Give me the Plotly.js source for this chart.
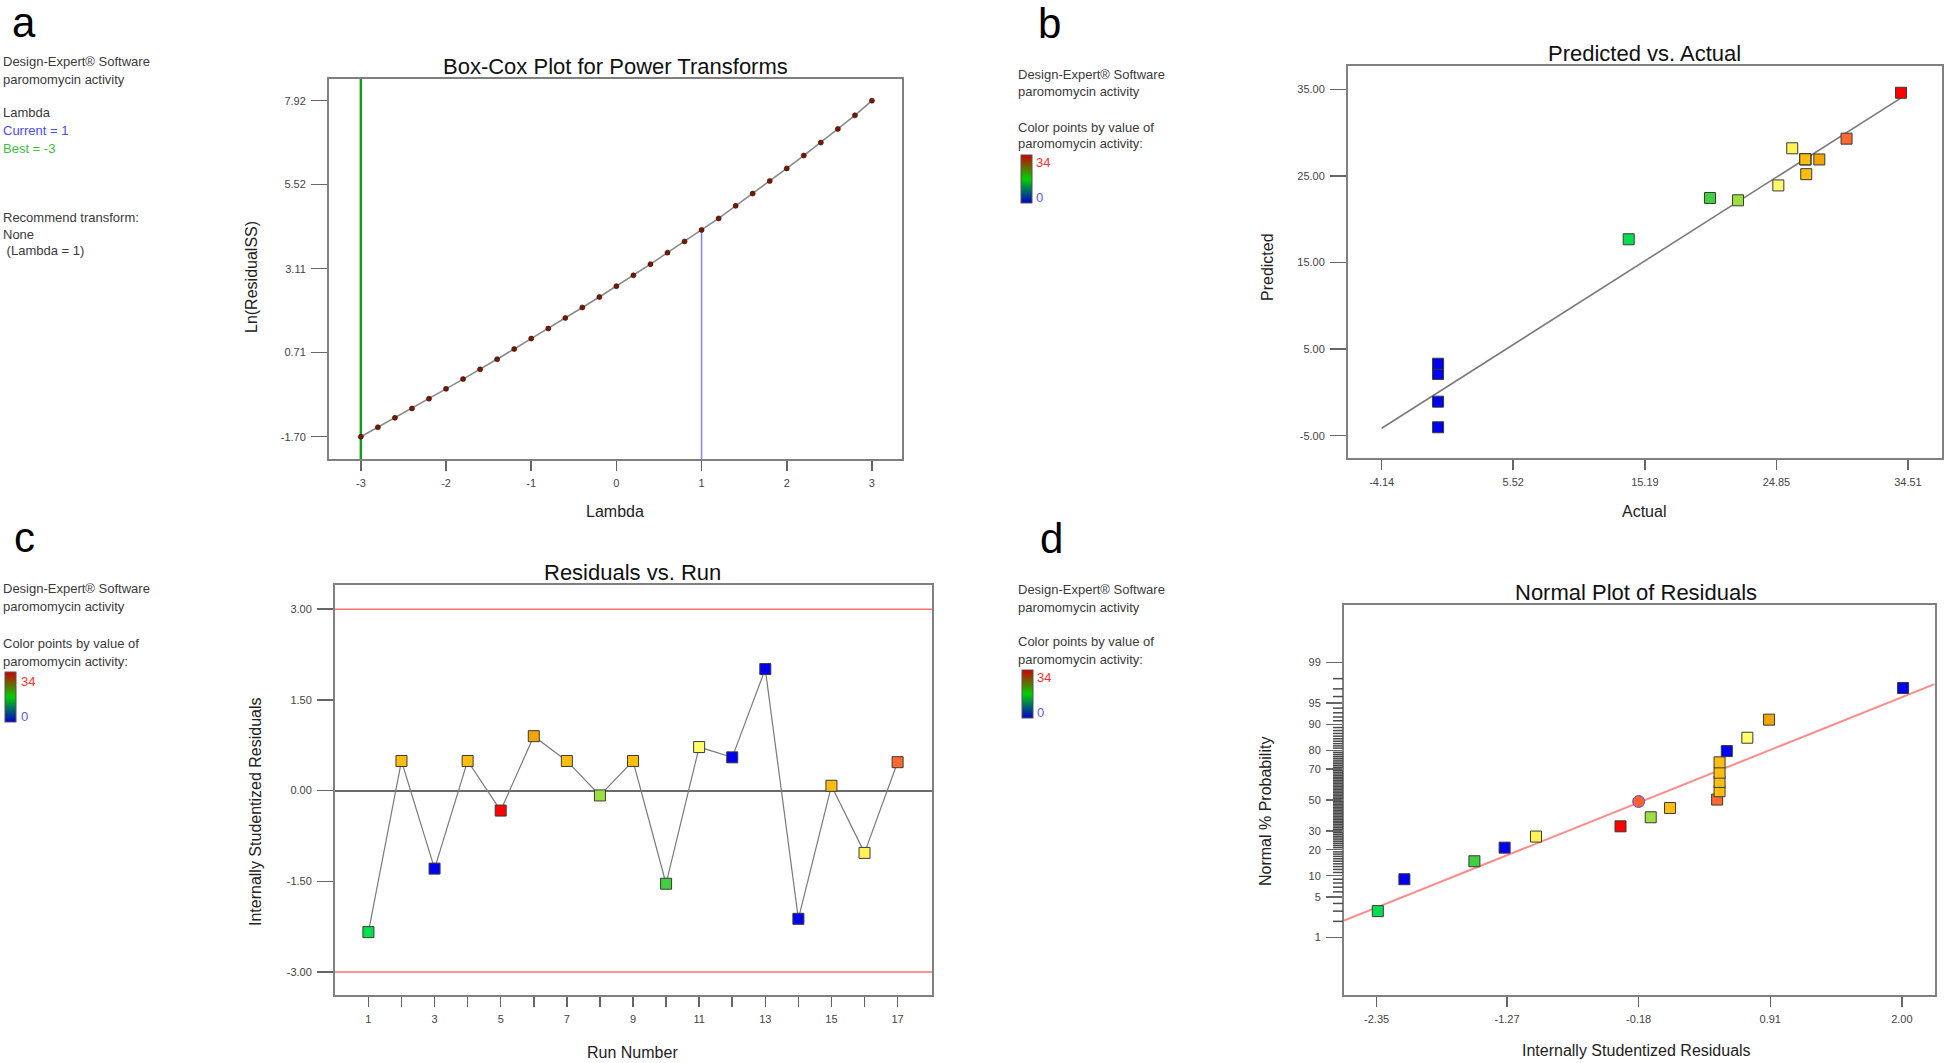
<!DOCTYPE html>
<html>
<head>
<meta charset="utf-8">
<script src="https://cdn.plot.ly/plotly-3.0.1.min.js"></script>
<style>
  html, body { margin: 0; padding: 0; background: #fff; }
  #plot { width: 1946px; height: 1063px; }
</style>
</head>
<body>
<div id="plot"></div>
<script>
// ---- (a) Box-Cox plot ----
const lambdaVals = [-3, -2.8, -2.6, -2.4, -2.2, -2, -1.8, -1.6, -1.4, -1.2, -1, -0.8, -0.6, -0.4, -0.2,
  0, 0.2, 0.4, 0.6, 0.8, 1, 1.2, 1.4, 1.6, 1.8, 2, 2.2, 2.4, 2.6, 2.8, 3];
const lnResidualSS = [-1.70, -1.43, -1.16, -0.89, -0.61, -0.33, -0.05, 0.23, 0.52, 0.81, 1.11, 1.40, 1.70,
  2.00, 2.30, 2.61, 2.92, 3.24, 3.57, 3.89, 4.22, 4.55, 4.91, 5.26, 5.62, 5.98, 6.35, 6.72, 7.11, 7.50, 7.92];
const lambdaBest = -3;
const lambdaCurrent = 1;
const lnAtCurrent = 4.22;

// ---- runs (b, c) ----
const runNumber = [1, 2, 3, 4, 5, 6, 7, 8, 9, 10, 11, 12, 13, 14, 15, 16, 17];
const actual = [14.0, 26.97, 0, 26.97, 34.0, 28.0, 26.97, 22.03, 26.97, 19.97, 24.99, 0, 0, 0, 27.04, 26.01, 30.0];
const predicted = [17.68, 26.92, 2.12, 26.92, 34.6, 26.9, 26.92, 22.18, 26.92, 22.45, 23.9, -1.07, -4.03, 3.31, 25.2, 28.19, 29.3];
const residual = [-2.34, 0.49, -1.29, 0.49, -0.33, 0.90, 0.49, -0.08, 0.49, -1.54, 0.72, 0.55, 2.01, -2.12, 0.08, -1.03, 0.47];
const fitLineB = [-4.14, 34.3];
const residLimit = 3;

// ---- (d) normal plot ----
const normOrder = [1, 14, 10, 3, 16, 5, 8, 15, 17, 2, 4, 7, 9, 12, 11, 6, 13];
const normProb = [3.0, 9.0, 15.0, 21.0, 26.8, 32.8, 38.5, 44.6, 50.3, 55.9, 62.0, 67.8, 73.8, 79.6, 85.4, 91.3, 97.1];
const markX = [-0.18];
const markProb = [49];
const fitX = [-2.62, 2.27];
const fitProb = [2.07, 97.5];

// ---- tick labels ----
const ticksAx = [-3, -2, -1, 0, 1, 2, 3];
const ticksAy = [-1.70, 0.71, 3.11, 5.52, 7.92];
const ticksBx = [-4.14, 5.52, 15.19, 24.85, 34.51];
const ticksBy = [-5, 5, 15, 25, 35];
const ticksCy = [-3, -1.5, 0, 1.5, 3];
const ticksDx = [-2.35, -1.27, -0.18, 0.91, 2.00];
const ticksDy = [1, 5, 10, 20, 30, 50, 70, 80, 90, 95, 99];

const W = 1946, H = 1063;
const FONT = 'Liberation Sans, Arial, sans-serif';

// inverse normal CDF (probability axis)
function probit(pct) {
  const p = pct / 100;
  const a = [-3.969683028665376e+01, 2.209460984245205e+02, -2.759285104469687e+02, 1.383577518672690e+02, -3.066479806614716e+01, 2.506628277459239e+00];
  const b = [-5.447609879822406e+01, 1.615858368580409e+02, -1.556989798598866e+02, 6.680131188771972e+01, -1.328068155288572e+01];
  const c = [-7.784894002430293e-03, -3.223964580411365e-01, -2.400758277161838e+00, -2.549732539343734e+00, 4.374664141464968e+00, 2.938163982698783e+00];
  const d = [7.784695709041462e-03, 3.224671290700398e-01, 2.445134137142996e+00, 3.754408661907416e+00];
  const pl = 0.02425;
  let q, r;
  if (p < pl) {
    q = Math.sqrt(-2 * Math.log(p));
    return (((((c[0]*q+c[1])*q+c[2])*q+c[3])*q+c[4])*q+c[5]) / ((((d[0]*q+d[1])*q+d[2])*q+d[3])*q+1);
  }
  if (p > 1 - pl) {
    q = Math.sqrt(-2 * Math.log(1 - p));
    return -(((((c[0]*q+c[1])*q+c[2])*q+c[3])*q+c[4])*q+c[5]) / ((((d[0]*q+d[1])*q+d[2])*q+d[3])*q+1);
  }
  q = p - 0.5; r = q * q;
  return (((((a[0]*r+a[1])*r+a[2])*r+a[3])*r+a[4])*r+a[5])*q / (((((b[0]*r+b[1])*r+b[2])*r+b[3])*r+b[4])*r+1);
}

const dx = (l, r) => [l / W, r / W];
const dy = (t, b) => [1 - b / H, 1 - t / H];

// point colours by activity value
const actScale = [[0, '#0000ee'], [0.40, '#00e050'], [0.59, '#40d040'], [0.65, '#a0e040'], [0.73, '#ffff70'],
  [0.77, '#fff050'], [0.79, '#ffc010'], [0.83, '#f0a000'], [0.88, '#ff6a30'], [1, '#ff0000']];
const barScale = [[0, '#0000d0'], [0.5, '#00d000'], [1, '#d00000']];

const markerStyle = colors => ({
  symbol: 'square', size: 11, color: colors, cmin: 0, cmax: 34, colorscale: actScale,
  line: { color: '#3a3a3a', width: 1 }
});

const normRes = normOrder.map(r => residual[r - 1]);
const normAct = normOrder.map(r => actual[r - 1]);

function legendBar(xa, ya, left, top, len) {
  return {
    type: 'scatter', x: [null], y: [null], xaxis: xa, yaxis: ya, mode: 'markers', showlegend: false, hoverinfo: 'skip',
    marker: {
      color: [0], cmin: 0, cmax: 34, colorscale: barScale, showscale: true,
      colorbar: {
        x: left / W, xanchor: 'left', y: 1 - top / H, yanchor: 'top', len: len, lenmode: 'pixels',
        thickness: 11, thicknessmode: 'pixels', outlinewidth: 1, outlinecolor: '#555',
        showticklabels: false, ticks: '', xpad: 0, ypad: 0, borderwidth: 0
      }
    }
  };
}

const traces = [
  // (a)
  { x: [lambdaCurrent, lambdaCurrent], y: [-2.338, lnAtCurrent], xaxis: 'x', yaxis: 'y', mode: 'lines',
    line: { color: '#8080ff', width: 1.5 }, hoverinfo: 'skip' },
  { x: lambdaVals, y: lnResidualSS, xaxis: 'x', yaxis: 'y', mode: 'lines+markers',
    line: { color: '#8a8a8a', width: 1.6 },
    marker: { size: 5, color: '#7a1800', line: { color: '#2a0a00', width: 0.6 } } },
  // (b)
  { x: fitLineB, y: fitLineB, xaxis: 'x2', yaxis: 'y2', mode: 'lines', line: { color: '#7a7a7a', width: 1.6 } },
  { x: actual, y: predicted, xaxis: 'x2', yaxis: 'y2', mode: 'markers', marker: markerStyle(actual) },
  // (c)
  { x: runNumber, y: residual, xaxis: 'x3', yaxis: 'y3', mode: 'lines+markers',
    line: { color: '#7a7a7a', width: 1.2 }, marker: markerStyle(actual) },
  // (d)
  { x: fitX, y: fitProb.map(probit), xaxis: 'x4', yaxis: 'y4', mode: 'lines', line: { color: '#ff8a8a', width: 2 } },
  { x: normRes, y: normProb.map(probit), xaxis: 'x4', yaxis: 'y4', mode: 'markers', marker: markerStyle(normAct) },
  { x: markX, y: markProb.map(probit), xaxis: 'x4', yaxis: 'y4', mode: 'markers',
    marker: { symbol: 'circle', size: 12, color: '#ff6030', line: { color: '#5050ff', width: 1 } } },
  legendBar('x2', 'y2', 1021, 155, 48),
  legendBar('x3', 'y3', 5, 672, 50),
  legendBar('x4', 'y4', 1022, 670, 48)
];
traces.forEach(t => { if (t.showlegend === undefined) t.showlegend = false; });

const axisBase = {
  showline: true, mirror: true, linecolor: '#808080', linewidth: 2, ticks: 'outside', tickcolor: '#666',
  tickwidth: 1.5, showgrid: false, zeroline: false, tickmode: 'array', ticklabelstandoff: 3,
  tickfont: { size: 11, color: '#444', family: FONT }, fixedrange: true
};
const xAxis = o => Object.assign({}, axisBase, { ticklen: 10 }, o);
const yAxis = o => Object.assign({}, axisBase, { ticklen: 16 }, o);

function note(text, x, y, o) {
  const a = {
    text: text, x: x / W, y: 1 - y / H, xref: 'paper', yref: 'paper', showarrow: false,
    xanchor: 'left', yanchor: 'middle', font: { size: 13, color: '#3a3a3a', family: FONT }
  };
  return Object.assign(a, o || {});
}
const title = (t, x, y) => note(t, x, y, { xanchor: 'center', font: { size: 22, color: '#111', family: FONT } });
const axTitle = (t, x, y, rot) => note(t, x, y, { xanchor: 'center', textangle: rot || 0, font: { size: 16, color: '#222', family: FONT } });
const panel = (t, x, y) => note(t, x, y, { font: { size: 42, color: '#000', family: FONT } });
const colored = (t, x, y, c) => note(t, x, y, { font: { size: 13, color: c, family: FONT } });

const annotations = [
  panel('a', 10, 22), panel('b', 1036, 23), panel('c', 12, 537), panel('d', 1038, 538),
  title('Box-Cox Plot for Power Transforms', 615, 67),
  title('Predicted vs. Actual', 1644, 53),
  title('Residuals vs. Run', 632, 572),
  title('Normal Plot of Residuals', 1636, 592),
  axTitle('Lambda', 615, 512), axTitle('Ln(ResidualSS)', 252, 277, -90),
  axTitle('Actual', 1644, 512), axTitle('Predicted', 1268, 267, -90),
  axTitle('Run Number', 632, 1052), axTitle('Internally Studentized Residuals', 255, 812, -90),
  axTitle('Internally Studentized Residuals', 1636, 1050), axTitle('Normal % Probability', 1265, 812, -90),
  // side notes (a)
  note('Design-Expert® Software', 1, 62), note('paromomycin activity', 1, 80),
  note('Lambda', 1, 113), colored('Current = 1', 1, 131, '#4a4aff'), colored('Best = -3', 1, 148, '#3cc03c'),
  note('Recommend transform:', 1, 218), note('None', 1, 234), note('\u00a0(Lambda = 1)', 1, 251),
  // side notes (b)
  note('Design-Expert® Software', 1016, 74), note('paromomycin activity', 1016, 91),
  note('Color points by value of', 1016, 127), note('paromomycin activity:', 1016, 144),
  colored('34', 1034, 162, '#ff3030'), colored('0', 1034, 197, '#5a5aff'),
  // side notes (c)
  note('Design-Expert® Software', 1, 588), note('paromomycin activity', 1, 606),
  note('Color points by value of', 1, 643), note('paromomycin activity:', 1, 661),
  colored('34', 19, 681, '#ff3030'), colored('0', 19, 716, '#5a5aff'),
  // side notes (d)
  note('Design-Expert® Software', 1016, 589), note('paromomycin activity', 1016, 607),
  note('Color points by value of', 1016, 641), note('paromomycin activity:', 1016, 659),
  colored('34', 1035, 677, '#ff3030'), colored('0', 1035, 712, '#5a5aff')
];

const rangeD = [-3.30, 3.30];
const domXD = dx(1344, 1934.5);
const domYD = dy(605, 995);

const shapes = [
  { type: 'line', layer: 'below', xref: 'x', yref: 'y domain', x0: lambdaBest, x1: lambdaBest, y0: 0, y1: 1,
    line: { color: '#1a9a1a', width: 2.5 } },
  { type: 'line', layer: 'below', xref: 'x3 domain', yref: 'y3', x0: 0, x1: 1, y0: residLimit, y1: residLimit,
    line: { color: '#ff7070', width: 1.6 } },
  { type: 'line', layer: 'below', xref: 'x3 domain', yref: 'y3', x0: 0, x1: 1, y0: -residLimit, y1: -residLimit,
    line: { color: '#ff7070', width: 1.6 } }
];

// short ticks at every whole percent on the probability axis (left of the axis line)
for (let p = 2; p <= 98; p++) {
  if (ticksDy.includes(p)) continue;
  const f = (probit(p) - rangeD[0]) / (rangeD[1] - rangeD[0]);
  const yp = domYD[0] + f * (domYD[1] - domYD[0]);
  shapes.push({ type: 'line', layer: 'above', xref: 'paper', yref: 'paper',
    x0: domXD[0] - 11 / W, x1: domXD[0] - 1 / W, y0: yp, y1: yp, line: { color: '#4a4a4a', width: 1.5 } });
}

const layout = {
  width: W, height: H, margin: { l: 0, r: 0, t: 0, b: 0 },
  paper_bgcolor: '#fff', plot_bgcolor: '#fff', showlegend: false,
  font: { family: FONT, color: '#333' },
  xaxis: xAxis({ domain: dx(329, 902), range: [-3.374, 3.353], anchor: 'y',
    tickvals: ticksAx, ticktext: ticksAx.map(String) }),
  yaxis: yAxis({ domain: dy(79, 459), range: [-2.338, 8.541], anchor: 'x',
    tickvals: ticksAy, ticktext: ticksAy.map(v => v.toFixed(2)) }),
  xaxis2: xAxis({ domain: dx(1348, 1942), range: [-6.615, 37.01], anchor: 'y2',
    tickvals: ticksBx, ticktext: ticksBx.map(v => v.toFixed(2)) }),
  yaxis2: yAxis({ domain: dy(66, 457.5), range: [-7.52, 37.69], anchor: 'x2',
    tickvals: ticksBy, ticktext: ticksBy.map(v => v.toFixed(2)) }),
  xaxis3: xAxis({ domain: dx(335, 932), range: [-0.01, 18.04], anchor: 'y3',
    tickvals: runNumber, ticktext: runNumber.map(v => v % 2 ? String(v) : '') }),
  yaxis3: yAxis({ domain: dy(585, 995), range: [-3.38, 3.40], anchor: 'x3',
    tickvals: ticksCy, ticktext: ticksCy.map(v => v.toFixed(2)),
    zeroline: true, zerolinecolor: '#6a6a6a', zerolinewidth: 2 }),
  xaxis4: xAxis({ domain: domXD, range: [-2.62, 2.27], anchor: 'y4',
    tickvals: ticksDx, ticktext: ticksDx.map(v => v.toFixed(2)) }),
  yaxis4: yAxis({ domain: domYD, range: rangeD, anchor: 'x4',
    tickvals: ticksDy.map(probit), ticktext: ticksDy.map(String) }),
  annotations: annotations,
  shapes: shapes
};

Plotly.newPlot('plot', traces, layout, { staticPlot: true, displayModeBar: false });
</script>
</body>
</html>
